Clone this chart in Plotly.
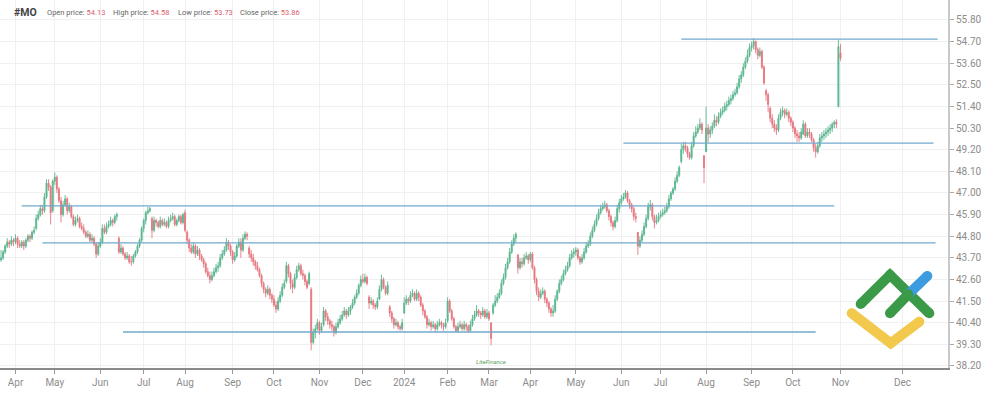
import pandas as pd
import plotly.graph_objects as go

# ---------------- data ----------------
symbol = "#MO"
header_labels = ["Open price:", "High price:", "Low price:", "Close price:"]
header_values = ["54.13", "54.58", "53.73", "53.86"]

first_day = "2023-03-23"
last_day = "2024-11-01"
market_holidays = ["2023-04-07", "2023-05-29", "2023-06-19", "2023-07-04", "2023-09-04",
                   "2023-11-23", "2023-12-25", "2024-01-01", "2024-01-15", "2024-02-19",
                   "2024-03-29", "2024-05-27", "2024-06-19", "2024-07-04", "2024-09-02"]

opens = [
    43.6, 43.7, 44.0, 44.3, 44.5, 44.4, 44.6, 44.5, 44.7, 44.4,
    44.3, 44.5, 44.3, 44.6, 44.8, 44.7, 45.0, 45.2, 45.7, 45.9,
    46.2, 46.1, 46.8, 47.5, 47.3, 46.1, 47.6, 47.8, 47.2, 46.6,
    45.9, 46.4, 46.7, 46.1, 46.3, 45.8, 45.4, 45.6, 45.7, 45.3,
    45.2, 45.0, 44.8, 44.9, 44.6, 44.7, 44.4, 43.9, 44.3, 44.5,
    45.2, 45.0, 45.3, 45.4, 45.6, 45.5, 45.8, 44.7, 44.0, 44.2,
    43.9, 43.7, 43.8, 43.5, 43.5, 43.8, 44.0, 44.3, 44.6, 45.2,
    45.6, 46.0, 46.1, 45.7, 45.1, 45.6, 45.5, 45.3, 45.6, 45.4,
    45.5, 45.3, 45.6, 45.7, 45.8, 45.4, 45.6, 45.8, 45.5, 46.0,
    45.0, 44.6, 44.2, 44.0, 44.3, 43.9, 44.1, 43.8, 43.6, 43.4,
    43.0, 42.8, 42.6, 42.8, 43.0, 43.2, 43.3, 43.7, 43.9, 44.1,
    44.5, 44.3, 44.0, 43.6, 43.8, 44.3, 44.5, 44.1, 44.7, 44.9,
    44.2, 43.9, 43.7, 43.5, 43.3, 43.1, 42.8, 42.4, 42.1, 41.9,
    42.1, 41.8, 41.6, 41.3, 41.1, 41.5, 41.8, 42.2, 42.5, 43.3,
    42.9, 42.4, 42.2, 42.7, 43.1, 43.3, 42.9, 42.8, 42.5, 42.4,
    42.1, 39.4, 39.9, 40.1, 40.4, 40.0, 40.3, 41.0, 40.7, 40.5,
    40.3, 40.2, 39.9, 40.2, 40.4, 40.6, 40.8, 41.0, 40.8, 41.0,
    41.2, 41.4, 41.7, 41.9, 42.3, 42.6, 42.5, 42.7, 41.7, 41.4,
    41.5, 41.3, 41.2, 41.6, 42.1, 42.6, 42.2, 41.9, 41.2, 40.9,
    40.6, 40.3, 40.4, 40.2, 40.1, 40.9, 41.4, 41.6, 41.5, 41.8,
    41.9, 41.6, 41.9, 41.7, 41.3, 41.0, 40.7, 40.3, 40.4, 40.2,
    40.3, 40.1, 40.3, 40.4, 40.3, 40.2, 40.5, 41.5, 41.0, 40.6,
    40.2, 40.0, 40.2, 40.3, 40.1, 40.3, 40.2, 40.0, 40.3, 40.6,
    40.8, 41.0, 40.9, 40.8, 41.0, 40.7, 40.9, 40.4, 40.9, 41.3,
    41.5, 41.7, 41.9, 42.4, 42.7, 43.2, 43.5, 44.0, 44.4, 44.7,
    43.85, 43.2, 43.5, 43.4, 43.7, 43.8, 43.6, 43.9, 43.2, 42.6,
    42.0, 41.7, 41.9, 42.0, 41.6, 41.4, 41.1, 40.9, 41.0, 41.6,
    42.0, 42.4, 42.6, 42.9, 43.1, 43.3, 43.7, 43.9, 44.0, 44.1,
    43.7, 43.5, 43.7, 44.0, 44.3, 44.4, 44.8, 45.1, 45.4, 45.7,
    46.0, 46.2, 46.3, 46.4, 46.1, 45.8, 45.5, 45.3, 45.6, 46.2,
    46.5, 46.7, 46.8, 47.0, 46.6, 46.4, 46.2, 45.8, 45.0, 44.3,
    44.6, 44.9, 45.3, 45.7, 46.3, 46.4, 45.8, 45.5, 45.6, 45.8,
    45.9, 46.0, 46.1, 46.3, 46.7, 47.0, 47.2, 47.6, 47.9, 48.6,
    49.2, 49.4, 49.3, 49.0, 48.8, 49.4, 49.9, 50.1, 50.3, 50.5,
    48.9, 49.1, 50.3, 50.0, 50.2, 50.4, 50.7, 50.6, 50.9, 51.1,
    51.2, 51.4, 51.5, 51.7, 51.8, 52.0, 52.1, 52.4, 52.8, 53.0,
    53.4, 53.7, 54.0, 54.4, 54.5, 54.7, 54.3, 54.0, 54.2, 53.4,
    52.2, 52.0, 51.3, 50.8, 50.5, 50.3, 50.2, 50.8, 51.1, 51.2,
    51.0, 51.1, 50.8, 50.6, 50.3, 50.0, 49.9, 49.8, 50.0, 50.5,
    49.9, 50.1, 50.0, 49.7, 49.3, 49.1, 49.4, 49.8, 49.9, 50.0,
    50.1, 50.2, 50.3, 50.5, 50.6, 51.4, 54.13,
]
highs = [
    44.1, 44.1, 44.4, 44.7, 44.6, 44.8, 44.7, 44.9, 44.8, 44.6,
    44.6, 44.6, 44.7, 44.9, 44.9, 45.1, 45.3, 45.9, 46.1, 46.4,
    46.4, 47.0, 47.7, 47.7, 47.4, 47.7, 48.05, 47.9, 47.3, 46.8,
    46.6, 46.9, 46.8, 46.5, 46.4, 45.9, 45.8, 45.9, 45.8, 45.5,
    45.4, 45.1, 45.1, 45.0, 44.9, 44.8, 44.5, 44.5, 44.7, 45.4,
    45.4, 45.5, 45.6, 45.8, 45.7, 45.9, 46.0, 44.8, 44.4, 44.3,
    44.0, 44.0, 43.9, 43.8, 43.9, 44.1, 44.4, 44.7, 45.3, 45.7,
    46.1, 46.3, 46.3, 45.8, 45.8, 45.7, 45.6, 45.8, 45.7, 45.7,
    45.6, 45.8, 45.9, 46.0, 45.9, 45.7, 45.9, 45.9, 46.0, 46.15,
    45.1, 44.7, 44.4, 44.5, 44.4, 44.3, 44.2, 43.9, 43.7, 43.5,
    43.2, 43.0, 43.0, 43.2, 43.4, 43.5, 43.9, 44.1, 44.3, 44.7,
    44.6, 44.4, 44.1, 44.0, 44.4, 44.7, 44.7, 44.9, 45.05, 45.0,
    44.3, 44.1, 43.9, 43.6, 43.5, 43.2, 42.9, 42.5, 42.2, 42.3,
    42.2, 41.9, 41.8, 41.5, 41.7, 42.0, 42.4, 42.6, 43.5, 43.4,
    43.0, 42.6, 42.9, 43.3, 43.45, 43.4, 43.1, 42.9, 42.6, 43.0,
    42.2, 40.1, 40.3, 40.6, 40.5, 40.4, 41.2, 41.1, 40.9, 40.6,
    40.5, 40.3, 40.4, 40.6, 40.8, 41.0, 41.2, 41.1, 41.2, 41.3,
    41.6, 41.8, 42.1, 42.4, 42.8, 42.9, 42.9, 42.8, 41.8, 41.7,
    41.6, 41.4, 41.7, 42.3, 42.85, 42.7, 42.3, 42.5, 41.3, 41.0,
    40.7, 40.6, 40.5, 40.3, 40.6, 41.7, 41.8, 41.7, 42.0, 42.1,
    42.0, 42.1, 42.0, 41.8, 41.4, 41.1, 40.8, 40.6, 40.5, 40.5,
    40.4, 40.5, 40.6, 40.5, 40.4, 40.6, 41.7, 41.6, 41.1, 40.7,
    40.3, 40.4, 40.5, 40.4, 40.5, 40.4, 40.3, 40.5, 40.8, 41.0,
    41.3, 41.1, 41.0, 41.2, 41.1, 41.1, 41.0, 40.4, 41.4, 41.8,
    41.9, 42.1, 42.6, 42.9, 43.4, 43.7, 44.2, 44.6, 44.9, 45.0,
    43.9, 43.7, 43.7, 43.9, 44.0, 43.9, 44.0, 44.0, 43.3, 42.7,
    42.2, 42.1, 42.2, 42.1, 41.7, 41.5, 41.2, 41.3, 41.8, 42.1,
    42.6, 42.8, 43.1, 43.3, 43.5, 43.9, 44.1, 44.2, 44.25, 44.2,
    43.8, 43.9, 44.2, 44.5, 44.6, 45.0, 45.3, 45.6, 45.9, 46.2,
    46.4, 46.5, 46.6, 46.5, 46.2, 45.9, 45.6, 45.8, 46.4, 46.7,
    46.9, 47.0, 47.15, 47.1, 46.7, 46.5, 46.3, 46.0, 45.0, 44.8,
    45.1, 45.5, 45.9, 46.5, 46.65, 46.5, 45.9, 45.9, 46.0, 46.1,
    46.2, 46.3, 46.5, 46.9, 47.1, 47.3, 47.8, 48.1, 48.4, 49.5,
    49.6, 49.6, 49.4, 49.1, 49.6, 50.1, 50.4, 50.5, 50.8, 50.6,
    48.9, 51.4, 50.5, 50.4, 50.6, 51.0, 50.9, 51.1, 51.3, 51.4,
    51.6, 51.7, 51.9, 52.0, 52.2, 52.3, 52.6, 53.0, 53.2, 53.6,
    53.9, 54.3, 54.6, 54.7, 54.88, 54.75, 54.4, 54.4, 54.3, 53.5,
    52.3, 52.1, 51.4, 51.0, 50.7, 50.5, 51.0, 51.3, 51.4, 51.3,
    51.3, 51.2, 50.9, 50.7, 50.4, 50.2, 50.1, 50.3, 50.7, 50.6,
    50.3, 50.3, 50.1, 49.8, 49.5, 49.6, 50.0, 50.1, 50.2, 50.3,
    50.4, 50.5, 50.6, 50.7, 50.75, 54.8, 54.58,
]
lows = [
    43.5, 43.6, 43.9, 44.2, 44.2, 44.3, 44.3, 44.4, 44.2, 44.2,
    44.2, 44.1, 44.2, 44.5, 44.5, 44.6, 44.9, 45.1, 45.6, 45.8,
    45.9, 46.0, 46.7, 47.1, 45.4, 46.0, 47.4, 47.0, 46.5, 45.5,
    45.8, 46.3, 45.9, 46.0, 45.7, 45.3, 45.3, 45.5, 45.2, 45.1,
    44.9, 44.7, 44.7, 44.5, 44.5, 44.3, 43.7, 43.8, 44.2, 44.4,
    44.9, 44.9, 45.2, 45.3, 45.3, 45.4, 45.6, 43.9, 43.9, 43.8,
    43.6, 43.6, 43.4, 43.3, 43.4, 43.7, 43.9, 44.2, 44.5, 45.0,
    45.4, 45.9, 46.0, 44.7, 45.0, 45.3, 45.2, 45.2, 45.3, 45.3,
    45.2, 45.2, 45.5, 45.6, 45.3, 45.3, 45.5, 45.4, 45.4, 45.0,
    44.4, 44.0, 43.9, 43.9, 43.7, 43.8, 43.6, 43.5, 43.2, 42.9,
    42.7, 42.4, 42.5, 42.7, 42.9, 43.0, 43.2, 43.6, 43.8, 44.0,
    44.1, 43.8, 43.4, 43.5, 43.7, 44.2, 43.7, 44.0, 44.6, 44.6,
    43.7, 43.5, 43.3, 43.1, 43.0, 42.7, 42.2, 41.9, 41.7, 41.8,
    41.6, 41.4, 41.2, 40.9, 41.0, 41.4, 41.7, 42.1, 42.4, 42.7,
    42.1, 41.9, 42.1, 42.6, 43.0, 42.8, 42.6, 42.3, 42.1, 42.3,
    39.0, 39.3, 39.6, 40.0, 39.8, 39.9, 40.2, 40.5, 40.3, 40.1,
    40.0, 39.7, 39.8, 40.1, 40.3, 40.5, 40.7, 40.6, 40.7, 40.8,
    41.1, 41.3, 41.6, 41.8, 42.2, 42.4, 42.4, 42.3, 41.1, 41.3,
    41.1, 41.05, 41.1, 41.55, 42.0, 42.1, 41.8, 41.8, 40.7, 40.4,
    40.1, 40.2, 40.05, 40.0, 40.0, 40.85, 41.3, 41.3, 41.4, 41.7,
    41.5, 41.5, 41.5, 41.2, 40.8, 40.6, 40.1, 40.2, 40.0, 40.1,
    39.95, 40.0, 40.2, 40.1, 40.0, 40.1, 40.4, 40.9, 40.5, 40.1,
    39.9, 39.9, 40.1, 40.0, 40.0, 40.0, 39.9, 39.95, 40.2, 40.5,
    40.7, 40.7, 40.6, 40.7, 40.6, 40.6, 40.5, 39.25, 40.8, 41.2,
    41.4, 41.6, 41.8, 42.3, 42.6, 43.1, 43.4, 43.9, 44.3, 44.5,
    42.9, 43.1, 43.2, 43.3, 43.6, 43.4, 43.5, 43.1, 42.4, 41.8,
    41.5, 41.6, 41.8, 41.4, 41.2, 40.9, 40.7, 40.7, 40.9, 41.5,
    41.9, 42.3, 42.5, 42.8, 43.0, 43.2, 43.6, 43.7, 43.8, 43.6,
    43.35, 43.4, 43.6, 43.9, 44.2, 44.3, 44.7, 45.0, 45.3, 45.6,
    45.9, 46.1, 46.2, 46.0, 45.6, 45.3, 45.1, 45.2, 45.5, 46.0,
    46.4, 46.6, 46.7, 46.5, 46.2, 46.0, 45.6, 45.5, 43.85, 44.2,
    44.5, 44.8, 45.2, 45.6, 46.1, 45.6, 45.2, 45.4, 45.5, 45.7,
    45.8, 45.9, 46.0, 46.2, 46.6, 46.9, 47.1, 47.5, 47.8, 48.5,
    49.0, 49.1, 48.8, 48.7, 48.7, 49.3, 49.8, 50.0, 50.2, 50.0,
    47.5, 49.1, 49.6, 49.8, 50.0, 50.3, 50.4, 50.5, 50.8, 50.97,
    51.1, 51.2, 51.4, 51.5, 51.7, 51.9, 52.0, 52.3, 52.6, 52.9,
    53.3, 53.6, 53.9, 54.2, 54.3, 54.1, 53.8, 53.9, 53.3, 52.5,
    51.7, 51.1, 50.6, 50.3, 50.1, 49.95, 50.1, 50.7, 50.9, 50.8,
    50.9, 50.6, 50.4, 50.1, 49.8, 49.6, 49.6, 49.7, 49.95, 49.8,
    49.8, 49.8, 49.6, 49.1, 48.8, 49.0, 49.3, 49.6, 49.7, 49.8,
    49.9, 50.0, 50.1, 50.3, 50.3, 51.35, 53.73,
]
closes = [
    43.7, 44.0, 44.3, 44.5, 44.4, 44.6, 44.5, 44.7, 44.4, 44.3,
    44.5, 44.3, 44.6, 44.8, 44.7, 45.0, 45.1, 45.7, 45.9, 46.2,
    46.1, 46.8, 47.5, 47.3, 46.0, 47.6, 47.8, 47.2, 46.6, 45.9,
    46.4, 46.7, 46.1, 46.3, 45.8, 45.4, 45.6, 45.7, 45.3, 45.2,
    45.0, 44.8, 44.9, 44.6, 44.7, 44.4, 43.9, 44.3, 44.5, 45.2,
    45.0, 45.3, 45.4, 45.6, 45.5, 45.8, 45.9, 44.0, 44.2, 43.9,
    43.7, 43.8, 43.5, 43.5, 43.8, 44.0, 44.3, 44.6, 45.2, 45.6,
    46.0, 46.1, 46.2, 45.1, 45.6, 45.5, 45.3, 45.6, 45.4, 45.5,
    45.3, 45.6, 45.7, 45.8, 45.4, 45.6, 45.8, 45.5, 45.9, 45.1,
    44.6, 44.2, 44.0, 44.3, 43.9, 44.1, 43.8, 43.6, 43.4, 43.0,
    42.8, 42.6, 42.8, 43.0, 43.2, 43.3, 43.7, 43.9, 44.1, 44.5,
    44.3, 44.0, 43.6, 43.8, 44.3, 44.5, 44.1, 44.7, 44.9, 44.8,
    43.9, 43.7, 43.5, 43.3, 43.1, 42.8, 42.4, 42.1, 41.9, 42.1,
    41.8, 41.6, 41.3, 41.1, 41.5, 41.8, 42.2, 42.4, 43.3, 42.9,
    42.4, 42.2, 42.7, 43.1, 43.3, 42.9, 42.8, 42.5, 42.2, 42.9,
    39.4, 39.9, 40.1, 40.4, 40.0, 40.2, 41.0, 40.7, 40.5, 40.3,
    40.2, 39.9, 40.2, 40.4, 40.6, 40.8, 41.0, 40.8, 41.0, 41.2,
    41.4, 41.7, 41.9, 42.3, 42.6, 42.5, 42.7, 42.4, 41.4, 41.5,
    41.3, 41.2, 41.5, 42.1, 42.6, 42.2, 41.9, 42.3, 40.9, 40.6,
    40.3, 40.4, 40.2, 40.1, 40.4, 41.4, 41.6, 41.5, 41.8, 41.9,
    41.6, 41.9, 41.7, 41.3, 41.0, 40.7, 40.3, 40.4, 40.2, 40.3,
    40.1, 40.3, 40.4, 40.3, 40.2, 40.4, 41.5, 41.0, 40.6, 40.2,
    40.0, 40.2, 40.3, 40.1, 40.3, 40.2, 40.0, 40.3, 40.6, 40.8,
    41.0, 40.9, 40.8, 41.0, 40.7, 40.9, 40.6, 39.6, 41.3, 41.5,
    41.7, 41.9, 42.4, 42.7, 43.2, 43.5, 44.0, 44.4, 44.7, 44.9,
    43.2, 43.5, 43.4, 43.7, 43.8, 43.6, 43.9, 43.2, 42.6, 42.0,
    41.7, 41.9, 42.0, 41.6, 41.4, 41.1, 40.9, 41.0, 41.6, 42.0,
    42.4, 42.6, 42.9, 43.1, 43.3, 43.7, 43.9, 44.0, 44.1, 43.7,
    43.5, 43.7, 44.0, 44.3, 44.4, 44.8, 45.1, 45.4, 45.7, 46.0,
    46.2, 46.3, 46.4, 46.1, 45.8, 45.5, 45.3, 45.6, 46.2, 46.5,
    46.7, 46.8, 47.0, 46.6, 46.4, 46.2, 45.8, 45.7, 44.3, 44.6,
    44.9, 45.3, 45.7, 46.3, 46.4, 45.8, 45.5, 45.6, 45.8, 45.9,
    46.0, 46.1, 46.3, 46.7, 47.0, 47.2, 47.6, 47.9, 48.3, 49.2,
    49.4, 49.3, 49.0, 48.8, 49.4, 49.9, 50.1, 50.3, 50.5, 50.2,
    48.3, 50.3, 50.0, 50.2, 50.4, 50.7, 50.6, 50.9, 51.1, 51.2,
    51.4, 51.5, 51.7, 51.8, 52.0, 52.1, 52.4, 52.8, 53.0, 53.4,
    53.7, 54.0, 54.4, 54.5, 54.7, 54.3, 54.0, 54.2, 53.4, 52.6,
    52.0, 51.5, 50.8, 50.5, 50.3, 50.2, 50.8, 51.1, 51.2, 51.0,
    51.1, 50.8, 50.6, 50.3, 50.0, 49.9, 49.8, 50.1, 50.5, 49.9,
    50.1, 50.0, 49.7, 49.3, 49.1, 49.4, 49.8, 49.9, 50.0, 50.1,
    50.2, 50.3, 50.5, 50.6, 50.5, 54.45, 53.86,
]

month_tick_dates = ["2023-04-03", "2023-05-01", "2023-06-01", "2023-07-03", "2023-08-01",
                    "2023-09-01", "2023-10-02", "2023-11-01", "2023-12-01", "2024-01-02",
                    "2024-02-01", "2024-03-01", "2024-04-01", "2024-05-01", "2024-06-03",
                    "2024-07-01", "2024-08-01", "2024-09-03", "2024-10-01", "2024-11-01",
                    "2024-12-01"]
month_tick_labels = ["Apr", "May", "Jun", "Jul", "Aug", "Sep", "Oct", "Nov", "Dec", "2024",
                     "Feb", "Mar", "Apr", "May", "Jun", "Jul", "Aug", "Sep", "Oct", "Nov", "Dec"]
price_ticks = [38.20, 39.30, 40.40, 41.50, 42.60, 43.70, 44.80, 45.90, 47.00,
               48.10, 49.20, 50.30, 51.40, 52.50, 53.60, 54.70, 55.80]

level_prices = [54.83, 49.54, 46.34, 44.46, 39.93]
level_starts = ["2024-07-16", "2024-06-04", "2023-04-06", "2023-04-21", "2023-06-16"]
level_ends = ["2024-12-18", "2024-12-16", "2024-10-29", "2024-12-17", "2024-10-16"]

# ---------------- styling ----------------
UP = "#5ab58e"
DOWN = "#e6767f"
LEVEL = "#72a8cd"
GRID = "#f0f0f0"
TXT = "#8c8c8c"
FONT = "Roboto"
PLOT_W, PLOT_H = 948, 368  # plot area in pixels

trading_days = pd.bdate_range(first_day, last_day).difference(pd.to_datetime(market_holidays))
n = min(len(trading_days), len(opens), len(highs), len(lows), len(closes))
dates = trading_days[:n]
closed_days = pd.date_range(first_day, last_day).difference(trading_days)

fig = go.Figure()
fig.add_trace(go.Candlestick(
    x=dates, open=opens[:n], high=highs[:n], low=lows[:n], close=closes[:n],
    increasing=dict(line=dict(color=UP, width=0.9), fillcolor=UP),
    decreasing=dict(line=dict(color=DOWN, width=0.9), fillcolor=DOWN),
    whiskerwidth=0, showlegend=False, hoverinfo="skip",
))

# horizontal support / resistance levels
for p, s, e in zip(level_prices, level_starts, level_ends):
    fig.add_shape(type="line", xref="x", yref="y", x0=s, x1=e, y0=p, y1=p,
                  line=dict(color=LEVEL, width=1.3))

# LiteFinance logo (decoration) drawn on a hidden pixel-space overlay axis
logo_strokes = [
    ("#f2c94c", [851.7, 890.7, 919.3], [313.3, 343.3, 321.7]),
    ("#3a9a48", [860.7, 890.0, 929.3], [304.0, 275.0, 313.3]),
    ("#3d9be0", [908.3, 927.3], [294.3, 276.0]),
    ("#3a9a48", [890.0, 908.3], [313.3, 294.3]),
]
for col, xs, ys in logo_strokes:
    fig.add_trace(go.Scatter(x=xs, y=ys, xaxis="x2", yaxis="y2", mode="lines+markers",
                             line=dict(color=col, width=10), marker=dict(color=col, size=10),
                             showlegend=False, hoverinfo="skip"))

HEAD_Y = 1 - 12.5 / PLOT_H
ann = []
ann.append(dict(text="<b>" + symbol + "</b>", x=12.0 / PLOT_W, y=HEAD_Y,
                xref="paper", yref="paper", xanchor="left", yanchor="middle",
                showarrow=False, font=dict(family=FONT, size=10.5, color="#444")))
label_x = [45, 111, 176, 238]
for lab, lx, val in zip(header_labels, label_x, header_values):
    ann.append(dict(text=lab + " <span style='color:#e0606c'>" + val + "</span>",
                    x=lx / PLOT_W, y=HEAD_Y, xref="paper", yref="paper",
                    xanchor="left", yanchor="middle", showarrow=False,
                    font=dict(family=FONT, size=7.5, color="#666")))
ann.append(dict(text="<i>LiteFinance</i>", x=491 / PLOT_W, y=(PLOT_H - 361) / PLOT_H,
                xref="paper", yref="paper", xanchor="center", yanchor="middle",
                showarrow=False, font=dict(family=FONT, size=6, color="#5aa05a")))

fig.update_layout(
    width=997, height=395,
    margin=dict(l=0, r=997 - PLOT_W, t=0, b=395 - PLOT_H),
    paper_bgcolor="white", plot_bgcolor="white",
    font=dict(family=FONT, size=10, color=TXT),
    annotations=ann,
    hovermode=False,
    xaxis=dict(
        type="date",
        range=["2023-03-22 12:00", "2024-12-23"],
        rangebreaks=[dict(values=[d.strftime("%Y-%m-%d") for d in closed_days])],
        rangeslider=dict(visible=False),
        tickvals=month_tick_dates, ticktext=month_tick_labels,
        showgrid=True, gridcolor=GRID, gridwidth=1,
        ticks="outside", ticklen=4, tickcolor="#999",
        showline=True, linecolor="#8a8a8a", linewidth=1.5,
        tickfont=dict(family=FONT, size=10, color=TXT),
        zeroline=False, fixedrange=True,
    ),
    yaxis=dict(
        side="right",
        range=[38.098, 56.817],
        tickvals=price_ticks, ticktext=[f"{v:.2f}" for v in price_ticks],
        showgrid=True, gridcolor=GRID, gridwidth=1,
        ticks="outside", ticklen=4, tickcolor="#aaa",
        showline=True, linecolor="#c8c8c8", linewidth=2,
        tickfont=dict(family=FONT, size=10, color=TXT),
        zeroline=False, fixedrange=True,
    ),
    xaxis2=dict(overlaying="x", range=[0, PLOT_W], visible=False, fixedrange=True),
    yaxis2=dict(overlaying="y", range=[PLOT_H, 0], visible=False, fixedrange=True),
)

fig.write_html("out.html", config={"displayModeBar": False},
               post_script="document.body.style.margin='0';document.body.style.overflow='hidden';")
